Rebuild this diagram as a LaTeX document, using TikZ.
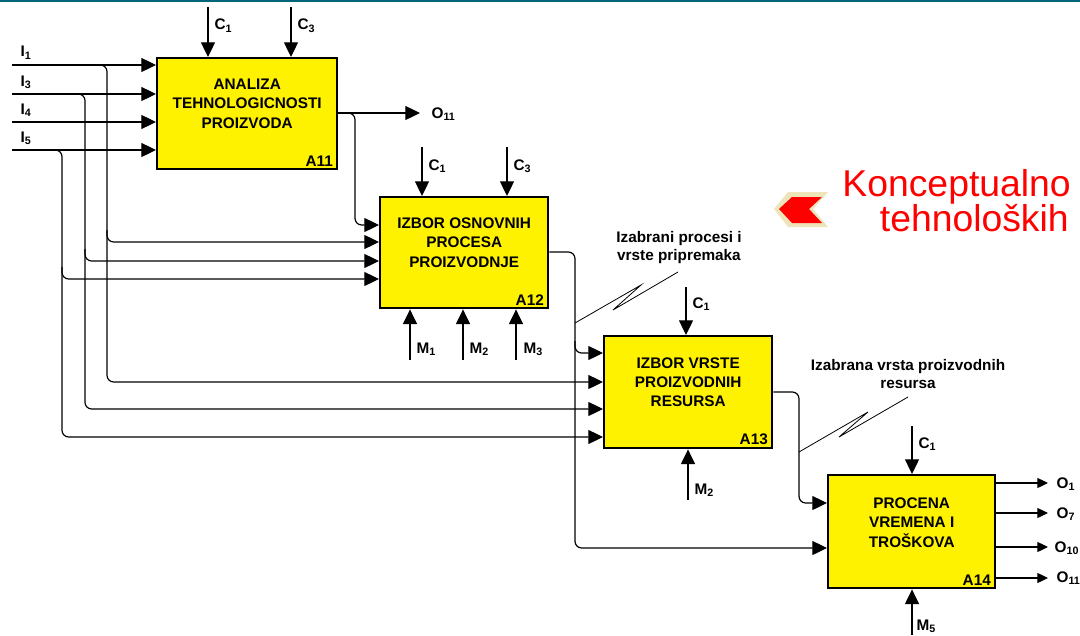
\documentclass[tikz,border=0pt]{standalone}
\usepackage{fontspec}
\setmainfont{Liberation Sans}
\usetikzlibrary{arrows.meta}
\definecolor{topline}{RGB}{0,102,122}
\definecolor{chevbg}{RGB}{238,228,185}
\definecolor{chevred}{RGB}{255,0,0}
\tikzset{
  fbox/.style={draw, line width=1.8pt, fill=yellow, inner sep=0pt, anchor=north west},
  flow/.style={line width=0.9pt, -{Triangle[length=11pt,width=10.5pt]}},
  flowsm/.style={line width=0.9pt, -{Triangle[length=8pt,width=7.5pt]}},
  wire/.style={rounded corners=5pt},
  zig/.style={line width=0.6pt},
  lbl/.style={font=\bfseries\fontsize{11.5}{13.5}\selectfont, inner sep=1pt},
  ttl/.style={font=\bfseries\fontsize{11.5}{14.6}\selectfont, align=center, inner sep=0pt}
}
\begin{document}
\begin{tikzpicture}[x=0.75pt,y=-0.75pt]
\useasboundingbox (0,0) rectangle (1080,635);
\fill[topline] (0,0) rectangle (1080,2.5);

% activity boxes
\node[fbox, minimum width=135pt, minimum height=83.25pt] (a11) at (156,57) {};
\node[fbox, minimum width=126pt, minimum height=83.25pt] (a12) at (379,196) {};
\node[fbox, minimum width=126pt, minimum height=84pt] (a13) at (603,335) {};
\node[fbox, minimum width=125.25pt, minimum height=84.75pt] (a14) at (827,474) {};

\node[ttl] (a11t) at ([yshift=7.5pt]a11.center) {ANALIZA\\TEHNOLOGICNOSTI\\PROIZVODA};
\node[ttl] (a12t) at ([yshift=7.5pt]a12.center) {IZBOR OSNOVNIH\\PROCESA\\PROIZVODNJE};
\node[ttl] (a13t) at ([yshift=7.5pt]a13.center) {IZBOR VRSTE\\PROIZVODNIH\\RESURSA};
\node[ttl] (a14t) at ([yshift=7pt]a14.center) {PROCENA\\VREMENA I\\TROŠKOVA};

\node[lbl, anchor=south east] (a11id) at ([xshift=-3pt,yshift=2pt]a11.south east) {A11};
\node[lbl, anchor=south east] (a12id) at ([xshift=-3pt,yshift=2pt]a12.south east) {A12};
\node[lbl, anchor=south east] (a13id) at ([xshift=-3pt,yshift=2pt]a13.south east) {A13};
\node[lbl, anchor=south east] (a14id) at ([xshift=-3pt,yshift=2pt]a14.south east) {A14};

% inputs
\coordinate (i1) at (12,65);
\coordinate (i3) at (12,94);
\coordinate (i4) at (12,122);
\coordinate (i5) at (12,150);
\node[lbl, anchor=base west] (li1) at (19,57) {I\textsubscript{1}};
\node[lbl, anchor=base west] (li3) at (19,86) {I\textsubscript{3}};
\node[lbl, anchor=base west] (li4) at (19,114) {I\textsubscript{4}};
\node[lbl, anchor=base west] (li5) at (19,142) {I\textsubscript{5}};

\draw[flow] (i1) -- (a11.west |- i1);
\draw[flow] (i3) -- (a11.west |- i3);
\draw[flow] (i4) -- (a11.west |- i4);
\draw[flow] (i5) -- (a11.west |- i5);

\draw[flow, wire] (i1) -| (107,382) -- (a13.west |- 0,382);
\draw[flow, wire] (107,230) |- (a12.west |- 0,242);
\draw[flow, wire] (i3) -| (85,409) -- (a13.west |- 0,409);
\draw[flow, wire] (85,249) |- (a12.west |- 0,261);
\draw[flow, wire] (i5) -| (62,437) -- (a13.west |- 0,437);
\draw[flow, wire] (62,267) |- (a12.west |- 0,279);

% controls
\coordinate (c1a) at (208,7);
\coordinate (c3a) at (291,7);
\coordinate (c1b) at (422,147);
\coordinate (c3b) at (507,147);
\coordinate (c1c) at (686,287);
\coordinate (c1d) at (912,426);
\draw[flow] (c1a) -- (a11.north -| c1a);
\draw[flow] (c3a) -- (a11.north -| c3a);
\draw[flow] (c1b) -- (a12.north -| c1b);
\draw[flow] (c3b) -- (a12.north -| c3b);
\draw[flow] (c1c) -- (a13.north -| c1c);
\draw[flow] (c1d) -- (a14.north -| c1d);
\node[lbl, anchor=base west] (lc1a) at (213,30) {C\textsubscript{1}};
\node[lbl, anchor=base west] (lc3a) at (296,30) {C\textsubscript{3}};
\node[lbl, anchor=base west] (lc1b) at (427,170) {C\textsubscript{1}};
\node[lbl, anchor=base west] (lc3b) at (512,170) {C\textsubscript{3}};
\node[lbl, anchor=base west] (lc1c) at (691,308) {C\textsubscript{1}};
\node[lbl, anchor=base west] (lc1d) at (917,448) {C\textsubscript{1}};

% mechanisms
\coordinate (m1b) at (410,360);
\coordinate (m2b) at (463,360);
\coordinate (m3b) at (516,360);
\coordinate (m2c) at (688,500);
\coordinate (m5d) at (912,635);
\draw[flow] (m1b) -- (a12.south -| m1b);
\draw[flow] (m2b) -- (a12.south -| m2b);
\draw[flow] (m3b) -- (a12.south -| m3b);
\draw[flow] (m2c) -- (a13.south -| m2c);
\draw[flow] (m5d) -- (a14.south -| m5d);
\node[lbl, anchor=base west] (lm1b) at (415,353) {M\textsubscript{1}};
\node[lbl, anchor=base west] (lm2b) at (468,353) {M\textsubscript{2}};
\node[lbl, anchor=base west] (lm3b) at (522,353) {M\textsubscript{3}};
\node[lbl, anchor=base west] (lm2c) at (693,494) {M\textsubscript{2}};
\node[lbl, anchor=base west] (lm5d) at (915,630) {M\textsubscript{5}};

% outputs
\coordinate (o11a) at (420,113);
\node[lbl, anchor=base west] (lo11a) at (430,118) {O\textsubscript{11}};
\draw[flow] (a11.east |- o11a) -- (o11a);
\draw[flow, wire] (a11.east |- o11a) -| (355,225) -- (a12.west |- 0,225);

\draw[flow, wire] (a12.east |- 0,252) -| (575,548) -- (a14.west |- 0,548);
\draw[flow, wire] (575,341) |- (a13.west |- 0,353);
\draw[flow, wire] (a13.east |- 0,392) -| (799,503) -- (a14.west |- 0,503);

\coordinate (o1) at (1048,483);
\coordinate (o7) at (1048,513);
\coordinate (o10) at (1048,547);
\coordinate (o11) at (1048,578);
\draw[flowsm] (a14.east |- o1) -- (o1);
\draw[flowsm] (a14.east |- o7) -- (o7);
\draw[flowsm] (a14.east |- o10) -- (o10);
\draw[flowsm] (a14.east |- o11) -- (o11);
\node[lbl, anchor=base west] (lo1) at (1055,488) {O\textsubscript{1}};
\node[lbl, anchor=base west] (lo7) at (1055,518) {O\textsubscript{7}};
\node[lbl, anchor=base west] (lo10) at (1053,552) {O\textsubscript{10}};
\node[lbl, anchor=base west] (lo11) at (1055,582) {O\textsubscript{11}};

% squiggles
\node[lbl, align=center] (n12) at (679,248) {Izabrani procesi i\\vrste pripremaka};
\node[lbl, align=center] (n13) at (908,374) {Izabrana vrsta proizvodnih\\resursa};
\draw[zig] (575,323) -- (641,285) -- (613,310) -- (678,272);
\draw[zig] (799,452) -- (868,412) -- (839,437) -- (908,397);

% chevron and title
\fill[chevbg] (774,209) -- (788,192) -- (828,192) -- (813,209) -- (828,227) -- (788,227) -- cycle;
\fill[chevred] (779,209) -- (792,197) -- (822,197) -- (809,209) -- (822,223) -- (792,223) -- cycle;
\node[font=\fontsize{28}{32}\selectfont, text=chevred, anchor=base east, inner sep=0pt] (tt1) at (1071,196) {Konceptualno};
\node[font=\fontsize{28}{32}\selectfont, text=chevred, anchor=base east, inner sep=0pt] (tt2) at (1069,231) {tehnoloških};
\end{tikzpicture}
\end{document}
